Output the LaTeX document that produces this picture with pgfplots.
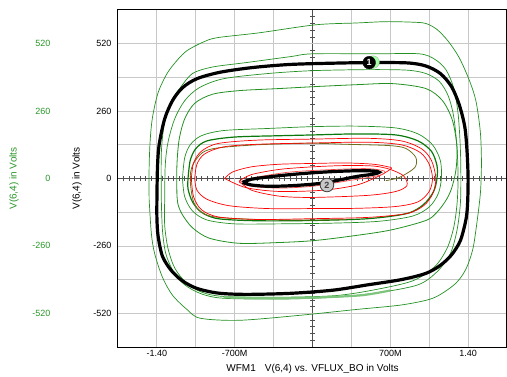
\documentclass[border=0pt]{standalone}
\usepackage{fontspec}
\setmainfont{Liberation Sans}
\usepackage{pgfplots}
\pgfplotsset{compat=1.18}
\definecolor{gr}{RGB}{34,145,34}
\definecolor{dgr}{RGB}{10,120,10}
\definecolor{lgr}{RGB}{125,196,125}
\definecolor{olv}{RGB}{110,110,30}
\definecolor{gridc}{RGB}{200,200,200}
\definecolor{axc}{RGB}{80,80,80}
\definecolor{labgr}{RGB}{40,150,40}
\definecolor{mk2}{RGB}{200,200,200}
\pgfplotsset{myframe/.style={at={(118pt,29pt)}, anchor=south west, scale only axis,
 width=389pt, height=337pt, xmin=-1.75, xmax=1.75, ymin=-650, ymax=650}}
\begin{document}
\begin{tikzpicture}[x=1pt,y=1pt]
\path[use as bounding box] (0,0) rectangle (507,376);
% centre cross-hair axes with small ticks (drawn first, below curves)
\begin{axis}[myframe, axis lines=middle, axis line style={-, axc, line width=1.2pt},
 xtick={-1.7,-1.65,...,1.71}, ytick={-624,-598,...,630},
 xticklabels={}, yticklabels={}, tick align=center, major tick length=5pt,
 tick style={axc, line width=0.6pt}]
\addplot[draw=none] coordinates {(0,0)};
\end{axis}
\begin{axis}[myframe,
 xtick={-1.4,-0.7,0.7,1.4}, xticklabels={-1.40,-700M,700M,1.40},
 minor xtick={-1.05,-0.35,0.35,1.05},
 ytick={-520,-260,260,520}, yticklabels={-520,-260,260,520},
 extra y ticks={0}, extra y tick labels={0}, extra tick style={grid=none},
 minor ytick={-390,-130,130,390},
 grid=both, major grid style={gridc, line width=0.8pt}, minor grid style={gridc, line width=0.8pt},
 tick style={draw=none},
 axis line style={black, line width=1pt},
 ticklabel style={font=\fontsize{9}{10}\selectfont},
 yticklabel style={xshift=-3pt},
 xlabel={WFM1\hspace{0.9em}V(6,4) vs. VFLUX\_BO in Volts},
 xlabel style={at={(axis description cs:0.5,0)}, anchor=center, yshift=-22pt, font=\fontsize{10}{12}\selectfont},
 ylabel={V(6,4) in Volts},
 ylabel style={at={(axis description cs:-0.105,0.5)}, anchor=center, font=\fontsize{10}{12}\selectfont},
]
% green outer
\addplot[gr, line width=0.7pt, smooth, tension=0.5] coordinates {
(-1.47,-80) (-1.47,42) (-1.46,150) (-1.44,235) (-1.39,330) (-1.31,404) (-1.22,455) (-1.13,493) (-0.99,525) (-0.86,543) (-0.48,562) (0.03,593) (0.4,600) (0.66,605) (0.9,603) (1.02,598) (1.12,575) (1.22,530) (1.32,466) (1.41,380) (1.47,300) (1.51,180) (1.52,60) (1.51,-60) (1.47,-200) (1.44,-277) (1.38,-350) (1.29,-404) (1.14,-450) (1.02,-470) (0.78,-489) (0.4,-505) (-0.12,-528) (-0.66,-547) (-1.01,-539) (-1.13,-505) (-1.26,-450) (-1.35,-381) (-1.42,-290) (-1.45,-212) (-1.47,-80)};
% G2
\addplot[gr, line width=0.7pt, smooth, tension=0.5] coordinates {
(-1.36,-85) (-1.36,100) (-1.33,220) (-1.27,300) (-1.19,350) (-1.08,405) (-0.9,430) (-0.6,447) (-0.2,470) (0,481) (0.57,481) (0.96,481) (1.1,460) (1.2,420) (1.27,350) (1.31,250) (1.33,120) (1.335,0) (1.33,-100) (1.30,-200) (1.24,-290) (1.12,-360) (0.95,-410) (0.6,-440) (0.2,-458) (-0.3,-465) (-0.8,-462) (-1.0,-445) (-1.15,-410) (-1.25,-360) (-1.32,-290) (-1.35,-200) (-1.36,-85)};
% G3
\addplot[gr, line width=0.7pt, smooth, tension=0.5] coordinates {
(-1.33,-85) (-1.325,50) (-1.30,140) (-1.24,230) (-1.15,300) (-1.02,350) (-0.8,385) (-0.4,405) (0,416) (0.5,420) (0.85,418) (1.02,405) (1.14,375) (1.22,320) (1.27,240) (1.30,120) (1.31,0) (1.30,-100) (1.27,-190) (1.21,-270) (1.10,-340) (0.9,-395) (0.55,-430) (0.2,-452) (-0.3,-458) (-0.8,-455) (-1.0,-438) (-1.14,-400) (-1.24,-345) (-1.30,-270) (-1.33,-180) (-1.33,-85)};
% light band
\addplot[lgr, line width=2.2pt, smooth] coordinates {(-0.8,-458) (-0.3,-462) (0.1,-458) (0.45,-450) (0.7,-432)};
% G4
\addplot[gr, line width=0.8pt, smooth, tension=0.5] coordinates {
(-1.22,-60) (-1.22,50) (-1.20,150) (-1.15,230) (-1.06,290) (-0.9,325) (-0.66,339) (-0.3,347) (0,354) (0.4,362) (0.72,366) (1.02,347) (1.17,300) (1.26,223) (1.30,120) (1.29,31) (1.25,-40) (1.20,-85) (1.12,-130) (1.02,-162) (0.69,-200) (0.3,-225) (0,-240) (-0.3,-247) (-0.66,-250) (-0.93,-230) (-1.08,-190) (-1.17,-140) (-1.21,-100) (-1.22,-60)};
% G5
\addplot[gr, line width=0.7pt, smooth, tension=0.5] coordinates {
(-1.17,0) (-1.15,80) (-1.10,130) (-1.0,165) (-0.8,185) (-0.4,193) (0,200) (0.4,202) (0.75,195) (0.95,172) (1.08,130) (1.15,70) (1.16,0) (1.13,-60) (1.05,-110) (0.9,-145) (0.6,-165) (0.2,-172) (-0.3,-175) (-0.7,-175) (-0.95,-160) (-1.08,-125) (-1.15,-70) (-1.17,0)};
% G6 dark
\addplot[dgr, line width=1.2pt, smooth, tension=0.5] coordinates {
(-1.12,0) (-1.10,70) (-1.05,115) (-0.95,145) (-0.7,160) (-0.3,165) (0,168) (0.4,172) (0.75,168) (0.95,145) (1.07,105) (1.12,50) (1.12,0) (1.09,-50) (1.0,-100) (0.85,-135) (0.5,-155) (0,-162) (-0.5,-163) (-0.85,-155) (-1.0,-130) (-1.08,-90) (-1.12,-40) (-1.12,0)};
% olive start
\addplot[olv, line width=0.8pt, smooth, tension=0.5] coordinates {
(0.66,-8) (0.78,4) (0.92,42) (0.93,81) (0.84,116) (0.69,127) (0.3,132) (-0.03,136) (-0.5,130) (-0.85,118) (-0.99,100) (-1.08,50) (-1.10,-8) (-1.06,-100) (-0.92,-145) (-0.5,-158) (0,-160) (0.3,-158)};
% red loops
\addplot[red, line width=0.7pt, smooth, tension=0.5] coordinates {
(-1.09,0) (-1.07,60) (-1.0,105) (-0.85,135) (-0.5,148) (0,152) (0.5,155) (0.8,145) (0.98,115) (1.07,70) (1.11,0) (1.08,-60) (1.0,-105) (0.85,-135) (0.5,-150) (0,-155) (-0.5,-158) (-0.85,-148) (-1.0,-120) (-1.07,-70) (-1.09,0)};
\addplot[red, line width=0.7pt, smooth, tension=0.5] coordinates {
(-1.06,0) (-1.04,55) (-0.97,95) (-0.8,122) (-0.5,132) (0,137) (0.5,140) (0.8,130) (0.97,100) (1.05,55) (1.08,0) (1.05,-50) (0.95,-90) (0.75,-108) (0.4,-115) (0,-116) (-0.4,-116) (-0.75,-105) (-0.95,-80) (-1.04,-45) (-1.06,0)};
\addplot[red, line width=0.7pt, smooth, tension=0.5] coordinates {
(-0.79,0) (-0.72,25) (-0.55,45) (-0.3,55) (0,58) (0.3,60) (0.55,55) (0.68,45) (0.71,39) (0.6,10) (0.4,-25) (0.1,-45) (-0.3,-50) (-0.6,-35) (-0.79,0)};
\addplot[red, line width=0.7pt, smooth, tension=0.5] coordinates {
(-0.66,-10) (-0.55,15) (-0.3,35) (0,45) (0.3,50) (0.55,48) (0.7,35) (0.82,10) (0.85,-27) (0.75,-50) (0.5,-65) (0,-73) (-0.3,-68) (-0.55,-45) (-0.66,-10)};
\addplot[red!70!white, line width=0.7pt, smooth, tension=0.5] coordinates {
(-0.66,-15) (-0.5,5) (-0.2,25) (0.2,35) (0.5,38) (0.65,28) (0.6,12) (0.3,-10) (0,-30) (-0.3,-37) (-0.55,-30) (-0.66,-15)};
% black outer loop
\addplot[black, line width=3.2pt, smooth, tension=0.5] coordinates {
(-1.40,-85) (-1.395,40) (-1.38,130) (-1.33,230) (-1.26,300) (-1.17,350) (-1.04,385) (-0.83,410) (-0.54,428) (-0.2,440) (0.2,445) (0.5,447) (0.85,446) (1.02,434) (1.15,405) (1.25,355) (1.32,285) (1.37,200) (1.39,108) (1.40,0) (1.395,-100) (1.38,-160) (1.33,-240) (1.25,-295) (1.15,-335) (1.02,-366) (0.8,-390) (0.5,-410) (0.18,-431) (-0.2,-443) (-0.6,-447) (-0.85,-442) (-1.04,-424) (-1.17,-395) (-1.27,-355) (-1.35,-300) (-1.39,-220) (-1.40,-150) (-1.40,-85)};
% black inner loop
\addplot[black, line width=3.2pt, smooth, tension=0.5] coordinates {
(-0.63,-15) (-0.55,-3) (-0.4,6) (-0.2,15) (0,22) (0.2,27) (0.4,30) (0.55,29) (0.6,24) (0.55,17) (0.4,8) (0.25,-5) (0.13,-15) (0,-22) (-0.2,-28) (-0.4,-30) (-0.55,-25) (-0.63,-15)};
% markers
\addplot[only marks, mark=*, mark size=6.3pt, mark options={fill=green!35!white, draw=gr!50}] coordinates {(0.545,449)};
\addplot[only marks, mark=*, mark size=6.3pt, mark options={fill=black, draw=black},
 nodes near coords={\textbf{1}},
 every node near coord/.append style={anchor=center, text=white, font=\fontsize{9}{9}\selectfont}] coordinates {(0.51,447)};
\addplot[only marks, mark=*, mark size=6.8pt, mark options={fill=mk2, draw=black!75, line width=0.8pt},
 nodes near coords={\textbf{2}},
 every node near coord/.append style={anchor=center, text=black!75, font=\fontsize{9}{9}\selectfont}] coordinates {(0.13,-25)};
\end{axis}
\begin{axis}[myframe,
 hide x axis, axis y line*=left, y axis line style={draw=none},
 ytick={-520,-260,0,260,520}, yticklabels={-520,-260,0,260,520},
 tick style={draw=none},
 yticklabel style={labgr, xshift=-64pt, font=\fontsize{9}{10}\selectfont},
 ylabel={V(6,4) in Volts},
 ylabel style={labgr, at={(axis description cs:-0.2674,0.5)}, anchor=center, font=\fontsize{10}{12}\selectfont},
]
\addplot[draw=none] coordinates {(0,0)};
\end{axis}
\end{tikzpicture}
\end{document}
